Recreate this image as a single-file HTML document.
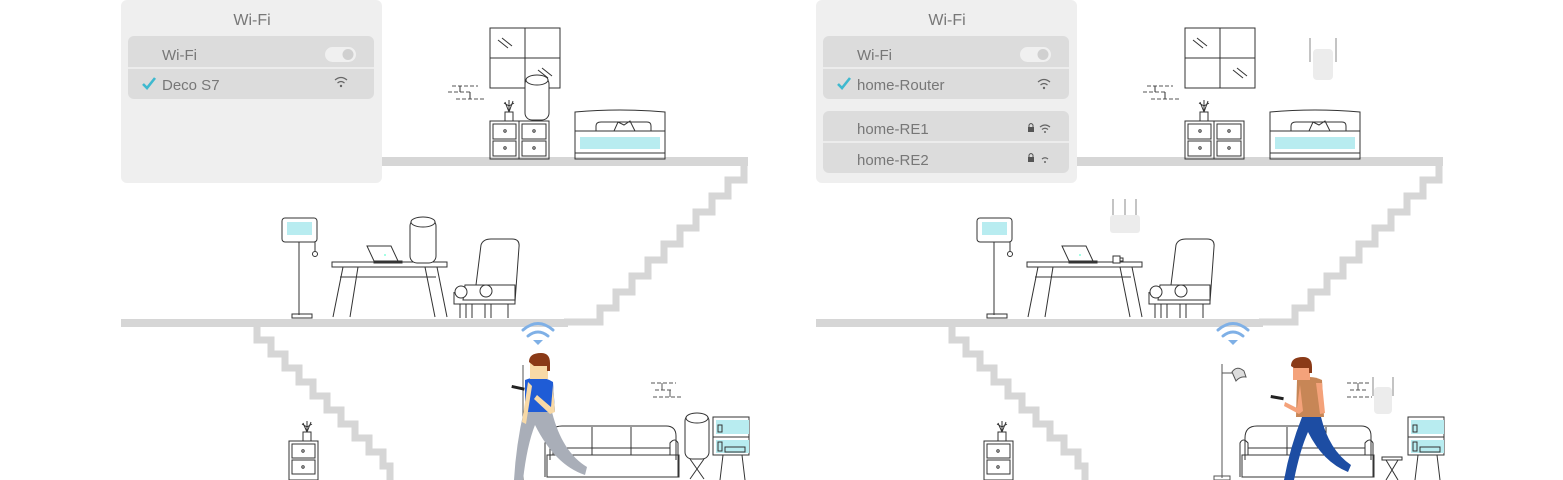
<!DOCTYPE html>
<html><head><meta charset="utf-8"><style>
html,body{margin:0;padding:0;background:#fff;}
svg{display:block;}
text{font-family:"Liberation Sans",sans-serif;}
</style></head><body>
<svg width="1563" height="480" viewBox="0 0 1563 480" xmlns="http://www.w3.org/2000/svg">
<defs>
<g id="common" fill="none" stroke="#333" stroke-width="1">
  <!-- floors -->
  <rect x="382" y="157" width="366" height="9" fill="#d6d6d6" stroke="none"/>
  <rect x="121" y="319" width="447" height="8" fill="#d6d6d6" stroke="none"/>
  <!-- upper stairs -->
  <polyline points="744,162 744,180 728,180 728,196 712,196 712,212 696,212 696,228 680,228 680,244 664,244 664,260 648,260 648,276 632,276 632,292 616,292 616,308 600,308 600,322 564,322" stroke="#d6d6d6" stroke-width="7"/>
  <!-- lower stairs -->
  <polyline points="257,325 257,340 271,340 271,354 285,354 285,368 299,368 299,382 313,382 313,396 327,396 327,410 341,410 341,424 355,424 355,438 369,438 369,452 383,452 383,466 390,466 390,480" stroke="#d6d6d6" stroke-width="7"/>
  <!-- window -->
  <rect x="490" y="28" width="70" height="60"/>
  <line x1="525" y1="28" x2="525" y2="88"/><line x1="490" y1="58" x2="560" y2="58"/>
  <line x1="498" y1="40" x2="508" y2="48"/><line x1="502" y1="38" x2="512" y2="46"/>
  <line x1="538" y1="70" x2="548" y2="78"/><line x1="542" y1="68" x2="552" y2="76"/>
  <!-- wall bricks -->
  <g stroke-dasharray="4 2" stroke="#555"><line x1="452" y1="86" x2="478" y2="86"/><line x1="448" y1="92" x2="470" y2="92"/><line x1="456" y1="99" x2="484" y2="99"/></g>
  <line x1="460" y1="86" x2="460" y2="92"/><line x1="470" y1="92" x2="470" y2="99"/>
  <!-- cabinet -->
  <rect x="490" y="121" width="59" height="38"/><line x1="519" y1="121" x2="519" y2="159"/>
  <rect x="493" y="124" width="23" height="15"/><rect x="493" y="141" width="23" height="15"/>
  <rect x="522" y="124" width="24" height="15"/><rect x="522" y="141" width="24" height="15"/>
  <circle cx="505" cy="131" r="1.2"/><circle cx="505" cy="148" r="1.2"/><circle cx="534" cy="131" r="1.2"/><circle cx="534" cy="148" r="1.2"/>
  <!-- plant -->
  <path d="M505 112 h8 v9 h-8z"/><path d="M509 112 l-4 -10 M509 112 l4 -11 M509 112 v-12 M509 106 l-5 -3 M509 106 l5 -3"/>
  <!-- bed -->
  <path d="M575 112 q45 -4 90 0 v47 h-90z"/>
  <line x1="575" y1="131" x2="665" y2="131"/><line x1="575" y1="153" x2="665" y2="153"/>
  <rect x="580" y="137" width="80" height="12" fill="#b8ecf0" stroke="none"/>
  <path d="M596 131 v-5 q0 -4 5 -4 h46 q4 0 4 4 v5"/><path d="M614 131 l4 -9 l6 3 l6 -4 l5 10"/>
  <!-- lamp -->
  <rect x="282" y="218" width="35" height="24" rx="3"/>
  <rect x="287" y="222" width="25" height="13" fill="#b8ecf0" stroke="none"/>
  <line x1="299" y1="242" x2="299" y2="315"/><line x1="315" y1="242" x2="315" y2="251"/><circle cx="315" cy="254" r="2.5"/>
  <rect x="292" y="314" width="20" height="4"/>
  <!-- table -->
  <rect x="332" y="262" width="115" height="5"/>
  <path d="M343 267 l-10 50 M358 267 l-8 50 M425 267 l10 50 M437 267 l10 50 M340 277 h96"/>
  <!-- laptop -->
  <path d="M367 246 h24 l7 15 h-24z"/><path d="M374 261 h28 v2 h-28z"/><circle cx="385" cy="255" r="1" fill="#8fd" stroke="none"/>
  <!-- armchair -->
  <path d="M476 285 l5 -40 q2 -6 10 -6 h21 q8 0 7 8 l-4 55"/>
  <path d="M465 285 h50 v15 h-52z"/><circle cx="461" cy="292" r="6" fill="#fff"/><circle cx="486" cy="291" r="6" fill="#fff"/>
  <path d="M454 292 v12 h61 v-12"/>
  <path d="M460 304 v14 M466 304 v14 M472 304 v14 M485 304 v14 M491 304 v14 M508 304 v14"/>
  <!-- lower cabinet + plant -->
  <rect x="289" y="441" width="29" height="39"/><rect x="292" y="444" width="23" height="14"/><rect x="292" y="460" width="23" height="14"/>
  <circle cx="303" cy="451" r="1.2"/><circle cx="303" cy="467" r="1.2"/>
  <path d="M303 432 h8 v9 h-8z"/><path d="M307 432 l-4 -9 M307 432 l4 -10 M307 432 v-11 M307 427 l-5 -3 M307 427 l5 -3"/>
  <!-- sofa -->
  <path d="M550 460 v-22 q0 -12 12 -12 h104 q10 0 10 10 v24"/>
  <line x1="592" y1="427" x2="592" y2="455"/><line x1="631" y1="427" x2="631" y2="455"/>
  <path d="M547 455 h132 v22 h-132z"/><path d="M545 477 v-34 q3 -6 8 0 v12 M678 477 v-34 q-3 -6 -8 0 v12"/>
  <line x1="553" y1="448" x2="670" y2="448"/>
  <!-- shelf -->
  <rect x="713" y="417" width="36" height="38" fill="#fff"/>
  <rect x="716" y="420" width="33" height="14" fill="#b8ecf0" stroke="none"/><rect x="716" y="440" width="33" height="13" fill="#b8ecf0" stroke="none"/>
  <line x1="713" y1="437" x2="749" y2="437"/>
  <rect x="718" y="425" width="4" height="7"/><rect x="718" y="442" width="4" height="9"/><rect x="725" y="447" width="20" height="5"/>
  <path d="M723 455 l-3 25 M742 455 l3 25"/>
  <!-- wifi symbol -->
  <g stroke="#7fb0e6" stroke-width="3" stroke-linecap="round">
    <path d="M523 330 q15 -13 30 0"/><path d="M528 336 q10 -8 20 0"/>
  </g>
  <path d="M533 340 l5 5 l5 -5z" fill="#7fb0e6" stroke="none"/>
</g>
</defs>

<!-- LEFT PANEL -->
<use href="#common"/>
<!-- card -->
<rect x="121" y="0" width="261" height="183" rx="6" fill="#efefef"/>
<text x="252" y="25" font-size="16" fill="#777" text-anchor="middle">Wi-Fi</text>
<rect x="128" y="36" width="246" height="63" rx="6" fill="#dcdcdc"/>
<line x1="128" y1="68" x2="374" y2="68" stroke="#f2f2f2" stroke-width="1.5"/>
<text x="162" y="60" font-size="15" fill="#777">Wi-Fi</text>
<rect x="325" y="47" width="31" height="15" rx="7.5" fill="#f0f0f0"/><circle cx="348" cy="54.5" r="5.5" fill="#d0d0d0"/>
<path d="M143 84 l4 4 l8 -10" stroke="#3fb9cf" stroke-width="2.6" fill="none"/>
<text x="162" y="90" font-size="15" fill="#777">Deco S7</text>
<g stroke="#666" stroke-width="1.2" fill="none"><path d="M335 80 q6 -5 12 0"/><path d="M337.5 83 q3.5 -3 7 0"/></g><circle cx="341" cy="86" r="1.2" fill="#666"/>
<!-- decos -->
<g fill="#fff" stroke="#333">
  <rect x="525" y="77" width="24" height="43" rx="7"/><ellipse cx="537" cy="80" rx="11" ry="5"/>
  <rect x="410" y="219" width="26" height="44" rx="7"/><ellipse cx="423" cy="222" rx="12" ry="5"/>
  <rect x="685" y="414" width="24" height="45" rx="7"/><ellipse cx="697" cy="418" rx="11" ry="5"/>
</g>
<path d="M690 459 l14 20 M704 459 l-14 20" stroke="#333" fill="none"/>
<!-- wall bricks lower -->
<g stroke="#555" fill="none"><g stroke-dasharray="4 2"><line x1="651" y1="383" x2="676" y2="383"/><line x1="655" y1="390" x2="673" y2="390"/><line x1="653" y1="397" x2="683" y2="397"/></g><line x1="662" y1="383" x2="662" y2="390"/><line x1="670" y1="390" x2="670" y2="397"/></g>
<!-- lamp pole behind person -->
<line x1="523" y1="365" x2="523" y2="480" stroke="#555"/>
<!-- person left -->
<path d="M524 410 q-8 35 -10 70 h9 q4 -35 12 -55 q20 40 50 50 l2 -8 q-25 -15 -35 -55z" fill="#a9aeb8"/>
<path d="M525 380 q15 -6 28 2 l2 30 h-30z" fill="#1f5cd6"/>
<path d="M528 382 l-6 40 l4 2 l6 -38z" fill="#f8d9a6"/>
<path d="M553 385 l-2 22 l-14 -12 l-3 4 l16 15 l5 -2z" fill="#f8d9a6"/>
<rect x="512" y="385" width="13" height="3" fill="#222" transform="rotate(12 512 385)"/>
<rect x="530" y="362" width="18" height="17" fill="#f8d9a6"/>
<path d="M529 362 q0 -9 12 -9 q9 0 9 10 v8 h-3 v-5 h-13 z" fill="#8a3a17"/>
<!-- RIGHT PANEL -->
<use href="#common" transform="translate(695,0)"/>
<rect x="816" y="0" width="261" height="183" rx="6" fill="#efefef"/>
<text x="947" y="25" font-size="16" fill="#777" text-anchor="middle">Wi-Fi</text>
<rect x="823" y="36" width="246" height="63" rx="6" fill="#dcdcdc"/>
<line x1="823" y1="68" x2="1069" y2="68" stroke="#f2f2f2" stroke-width="1.5"/>
<text x="857" y="60" font-size="15" fill="#777">Wi-Fi</text>
<rect x="1020" y="47" width="31" height="15" rx="7.5" fill="#f0f0f0"/><circle cx="1043" cy="54.5" r="5.5" fill="#d0d0d0"/>
<path d="M838 84 l4 4 l8 -10" stroke="#3fb9cf" stroke-width="2.6" fill="none"/>
<text x="857" y="90" font-size="15" fill="#777">home-Router</text>
<g stroke="#666" stroke-width="1.2" fill="none"><path d="M1038 82 q6 -5 12 0"/><path d="M1040.5 85 q3.5 -3 7 0"/></g><circle cx="1044" cy="88" r="1.2" fill="#666"/>
<rect x="823" y="111" width="246" height="62" rx="6" fill="#dcdcdc"/>
<line x1="823" y1="142" x2="1069" y2="142" stroke="#f2f2f2" stroke-width="1.5"/>
<text x="857" y="134" font-size="15" fill="#777">home-RE1</text>
<text x="857" y="165" font-size="15" fill="#777">home-RE2</text>
<rect x="1028" y="127" width="6" height="5" fill="#555"/><path d="M1029 127 v-2 q2 -3 4 0 v2" stroke="#555" fill="none"/>
<g stroke="#666" stroke-width="1.2" fill="none"><path d="M1040 127 q5 -4 10 0"/><path d="M1042 129.5 q3 -2.5 6 0"/></g><circle cx="1045" cy="132" r="1" fill="#666"/>
<rect x="1028" y="157" width="6" height="5" fill="#555"/><path d="M1029 157 v-2 q2 -3 4 0 v2" stroke="#555" fill="none"/>
<path d="M1042 159 q3 -2.5 6 0" stroke="#666" stroke-width="1.2" fill="none"/><circle cx="1045" cy="162" r="1" fill="#666"/>
<!-- extenders / router -->
<rect x="1313" y="49" width="20" height="31" rx="4" fill="#ececec"/>
<line x1="1310" y1="38" x2="1310" y2="62" stroke="#888"/><line x1="1336" y1="38" x2="1336" y2="62" stroke="#888"/>
<rect x="1110" y="215" width="30" height="18" rx="3" fill="#ececec"/>
<g stroke="#888"><line x1="1113" y1="199" x2="1113" y2="215"/><line x1="1125" y1="199" x2="1125" y2="215"/><line x1="1136" y1="199" x2="1136" y2="215"/></g>
<path d="M1113 256 h7 v7 h-7z M1120 258 h3 v3 h-3" stroke="#333" fill="#fff"/>
<rect x="1374" y="387" width="18" height="27" rx="4" fill="#ececec"/>
<line x1="1373" y1="377" x2="1373" y2="396" stroke="#888"/><line x1="1393" y1="377" x2="1393" y2="396" stroke="#888"/>
<g stroke="#555" fill="none"><g stroke-dasharray="4 2"><line x1="1347" y1="383" x2="1371" y2="383"/><line x1="1350" y1="390" x2="1366" y2="390"/><line x1="1347" y1="397" x2="1372" y2="397"/></g><line x1="1358" y1="383" x2="1358" y2="390"/></g>
<!-- stool -->
<g stroke="#333" fill="none"><rect x="1382" y="457" width="20" height="3"/><path d="M1386 460 l12 20 M1398 460 l-12 20"/></g>
<!-- floor lamp -->
<g stroke="#555" fill="none"><line x1="1222" y1="364" x2="1222" y2="478"/><rect x="1214" y="476" width="16" height="4"/><path d="M1222 373 h10"/></g>
<path d="M1232 372 q5 -7 12 -1 l2 6 q-6 -1 -10 4z" fill="#ddd" stroke="#555"/>
<!-- person right -->
<path d="M1302 417 q-12 30 -18 63 h10 q6 -30 14 -48 q15 30 40 40 l3 -7 q-22 -15 -30 -48z" fill="#1d4da3"/>
<path d="M1297 380 q13 -6 25 0 l2 37 h-28z" fill="#c78656"/>
<path d="M1316 383 l6 0 l3 30 l-5 1z" fill="#f4a27a"/>
<path d="M1300 385 l-3 23 l-12 -6 l-1 4 l15 8 l4 -3z" fill="#f4a27a"/>
<rect x="1271" y="395" width="13" height="3" fill="#222" transform="rotate(10 1271 395)"/>
<rect x="1293" y="364" width="17" height="16" fill="#f4a27a"/>
<path d="M1291 366 q0 -9 12 -9 q9 0 9 10 v6 h-3 v-5 h-15 z" fill="#8a3a17"/>
</svg>
</body></html>
